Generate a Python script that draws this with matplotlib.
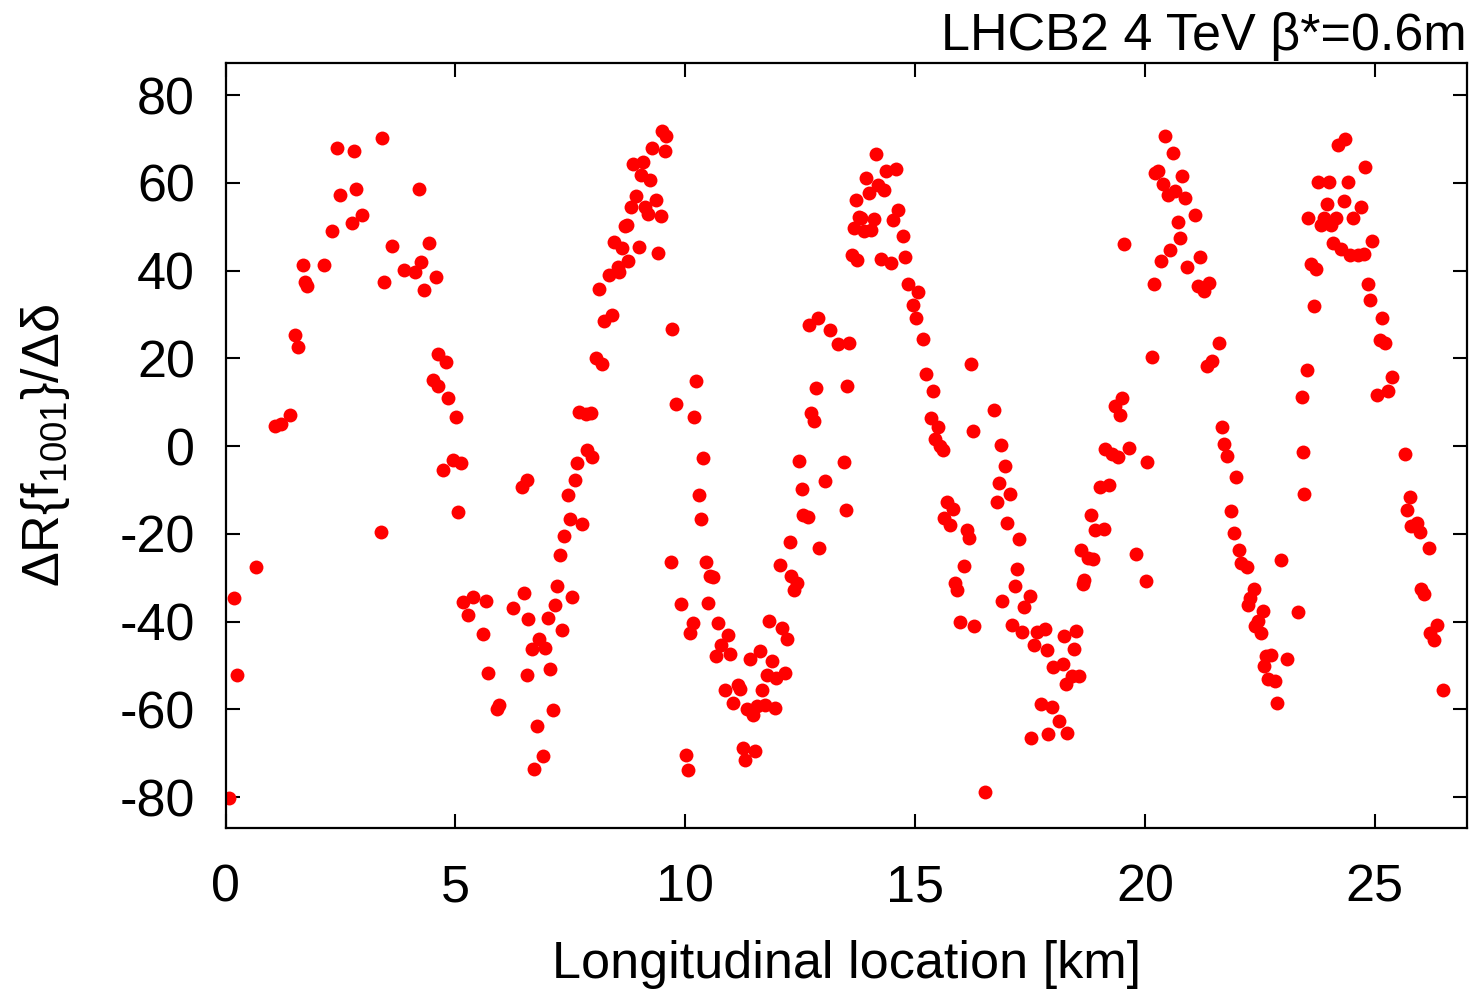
import matplotlib
matplotlib.use("Agg")
import matplotlib.pyplot as plt

plt.rcParams['font.family'] = ['Liberation Sans', 'DejaVu Sans']
plt.rcParams['mathtext.default'] = 'regular'
plt.rcParams['axes.unicode_minus'] = False

# longitudinal position [km] and coupling response
loc_km = [
    0.08, 0.19, 0.24, 0.66, 1.08, 1.21, 1.41, 1.52, 1.57, 1.68, 1.73, 1.78, 2.15, 2.32, 2.42,
    2.48, 2.75, 2.80, 2.83, 2.96, 3.38, 3.41, 3.44, 3.62, 3.88, 4.12, 4.20, 4.26, 4.31, 4.42,
    4.51, 4.57, 4.62, 4.62, 4.74, 4.80, 4.85, 4.95, 5.01, 5.06, 5.13, 5.17, 5.28, 5.39, 5.60,
    5.66, 5.71, 5.91, 5.96, 6.25, 6.44, 6.50, 6.55, 6.55, 6.59, 6.66, 6.70, 6.78, 6.83, 6.90,
    6.95, 7.01, 7.06, 7.12, 7.17, 7.22, 7.27, 7.32, 7.37, 7.44, 7.49, 7.54, 7.60, 7.65, 7.70,
    7.76, 7.84, 7.87, 7.94, 7.97, 8.06, 8.13, 8.19, 8.23, 8.35, 8.41, 8.44, 8.53, 8.57, 8.62,
    8.68, 8.73, 8.76, 8.82, 8.87, 8.93, 8.99, 9.04, 9.09, 9.13, 9.19, 9.24, 9.28, 9.36, 9.41,
    9.47, 9.49, 9.55, 9.59, 9.70, 9.72, 9.80, 9.91, 10.01, 10.06, 10.11, 10.16, 10.20, 10.23, 10.29,
    10.34, 10.39, 10.45, 10.50, 10.54, 10.61, 10.67, 10.72, 10.78, 10.87, 10.93, 10.98, 11.04, 11.14, 11.19,
    11.25, 11.30, 11.35, 11.41, 11.48, 11.51, 11.57, 11.62, 11.68, 11.74, 11.77, 11.82, 11.88, 11.95, 11.98,
    12.06, 12.10, 12.17, 12.21, 12.27, 12.31, 12.37, 12.44, 12.48, 12.53, 12.56, 12.66, 12.69, 12.74, 12.80,
    12.84, 12.89, 12.91, 13.04, 13.16, 13.33, 13.45, 13.49, 13.52, 13.56, 13.63, 13.67, 13.71, 13.74, 13.78,
    13.83, 13.89, 13.94, 13.99, 14.05, 14.10, 14.15, 14.20, 14.26, 14.32, 14.37, 14.48, 14.52, 14.59, 14.63,
    14.74, 14.79, 14.85, 14.96, 15.01, 15.06, 15.17, 15.23, 15.34, 15.39, 15.43, 15.49, 15.55, 15.61, 15.64,
    15.70, 15.75, 15.82, 15.86, 15.91, 15.97, 16.06, 16.13, 16.17, 16.22, 16.25, 16.28, 16.53, 16.71, 16.78,
    16.82, 16.86, 16.89, 16.95, 17.01, 17.06, 17.11, 17.17, 17.22, 17.27, 17.32, 17.38, 17.49, 17.53, 17.59,
    17.65, 17.75, 17.82, 17.87, 17.90, 17.98, 18.01, 18.12, 18.21, 18.23, 18.28, 18.30, 18.41, 18.45, 18.51,
    18.56, 18.61, 18.65, 18.68, 18.77, 18.82, 18.88, 18.92, 19.03, 19.10, 19.14, 19.21, 19.28, 19.35, 19.42,
    19.46, 19.50, 19.55, 19.66, 19.80, 20.02, 20.05, 20.16, 20.19, 20.21, 20.29, 20.34, 20.39, 20.44, 20.50,
    20.55, 20.60, 20.66, 20.71, 20.76, 20.81, 20.87, 20.92, 21.08, 21.15, 21.20, 21.29, 21.34, 21.40, 21.45,
    21.62, 21.67, 21.73, 21.78, 21.88, 21.94, 21.99, 22.05, 22.10, 22.21, 22.25, 22.28, 22.37, 22.39, 22.45,
    22.52, 22.56, 22.59, 22.64, 22.68, 22.74, 22.82, 22.88, 22.96, 23.09, 23.32, 23.41, 23.44, 23.47, 23.53,
    23.55, 23.61, 23.67, 23.73, 23.77, 23.82, 23.89, 23.95, 24.00, 24.04, 24.09, 24.15, 24.20, 24.27, 24.32,
    24.36, 24.42, 24.47, 24.53, 24.64, 24.69, 24.76, 24.78, 24.85, 24.90, 24.95, 25.05, 25.11, 25.16, 25.23,
    25.29, 25.38, 25.65, 25.71, 25.76, 25.79, 25.92, 25.99, 26.01, 26.08, 26.17, 26.21, 26.29, 26.35, 26.48,
]
dRf = [
    -80.3, -34.7, -52.1, -27.5, 4.5, 5.1, 7.2, 25.4, 22.7, 41.3, 37.5, 36.4, 41.4, 49.1, 67.9,
    57.3, 50.9, 67.3, 58.7, 52.7, -19.5, 70.3, 37.4, 45.6, 40.1, 39.6, 58.6, 41.9, 35.5, 46.3,
    15.1, 38.6, 21.1, 13.6, -5.5, 19.2, 11.0, -3.2, 6.6, -15.1, -3.8, -35.5, -38.5, -34.4, -42.8,
    -35.3, -51.6, -59.8, -58.9, -36.9, -9.2, -33.4, -7.8, -52.1, -39.5, -46.2, -73.5, -63.8, -43.9, -70.7,
    -45.9, -39.2, -50.9, -60.2, -36.3, -31.9, -24.9, -41.9, -20.5, -11.2, -16.6, -34.4, -7.6, -3.8, 7.7,
    -17.8, 7.4, -0.8, 7.6, -2.5, 20.1, 35.9, 18.8, 28.6, 39.1, 30.0, 46.6, 40.8, 39.8, 45.1,
    50.2, 50.5, 42.3, 54.6, 64.3, 56.9, 45.4, 61.7, 64.7, 54.6, 52.9, 60.6, 68.0, 56.0, 44.0,
    52.5, 71.8, 67.2, 70.7, -26.5, 26.7, 9.7, -35.9, -70.4, -73.8, -42.6, -40.3, 6.6, 14.9, -11.2,
    -16.5, -2.7, -26.5, -35.8, -29.5, -29.8, -47.9, -40.4, -45.4, -55.6, -43.1, -47.3, -58.5, -54.5, -55.3,
    -68.9, -71.6, -59.9, -48.5, -61.2, -69.5, -59.3, -46.6, -55.6, -59.1, -52.1, -39.9, -48.9, -59.6, -52.8,
    -27.1, -41.4, -51.8, -43.9, -21.8, -29.7, -32.8, -31.3, -3.4, -9.7, -15.8, -16.1, 27.7, 7.6, 5.8,
    13.2, 29.2, -23.1, -7.9, 26.4, 23.3, -3.6, -14.6, 13.6, 23.6, 43.6, 49.7, 56.1, 42.5, 52.3,
    52.0, 49.1, 61.1, 57.7, 49.3, 51.8, 66.6, 59.6, 42.6, 58.3, 62.6, 41.7, 51.6, 63.1, 53.9,
    47.9, 43.1, 37.0, 32.2, 29.1, 35.1, 24.5, 16.5, 6.4, 12.6, 1.6, 4.3, 0.1, -0.8, -16.4,
    -12.8, -17.9, -14.3, -31.2, -32.8, -40.1, -27.4, -19.2, -20.9, 18.7, 3.5, -40.9, -78.8, 8.2, -12.8,
    -8.5, 0.2, -35.3, -4.6, -17.4, -10.8, -40.8, -31.9, -27.9, -21.1, -42.4, -36.6, -34.2, -66.6, -45.4,
    -42.4, -58.7, -41.6, -46.4, -65.5, -59.4, -50.3, -62.7, -49.6, -43.2, -54.3, -65.3, -52.4, -46.2, -42.2,
    -52.4, -23.7, -31.5, -30.4, -25.6, -15.8, -25.7, -19.2, -9.4, -18.8, -0.6, -8.9, -1.9, 9.1, -2.5,
    7.2, 11.0, 46.1, -0.4, -24.5, -30.7, -3.5, 20.4, 37.0, 62.2, 62.8, 42.1, 59.8, 70.8, 57.3,
    44.8, 66.8, 58.2, 51.0, 47.4, 61.6, 56.5, 40.8, 52.6, 36.6, 43.0, 35.3, 18.2, 37.2, 19.3,
    23.6, 4.3, 0.6, -2.2, -14.7, -19.9, -7.1, -23.6, -26.6, -27.5, -36.1, -34.6, -32.5, -41.0, -39.9,
    -42.6, -37.6, -50.0, -47.9, -53.0, -47.7, -53.6, -58.5, -26.0, -48.5, -37.9, 11.3, -1.4, -11.0, 17.3,
    52.0, 41.5, 32.0, 40.4, 60.1, 50.5, 52.0, 55.2, 60.2, 50.5, 46.3, 52.0, 68.7, 44.9, 55.9,
    70.0, 60.2, 43.5, 52.0, 43.5, 54.4, 43.9, 63.6, 37.0, 33.2, 46.8, 11.7, 24.1, 29.3, 23.6,
    12.5, 15.8, -1.9, -14.6, -11.6, -18.3, -17.5, -19.5, -32.5, -33.8, -23.1, -42.6, -44.1, -40.8, -55.6,
]

xticks = [0, 5, 10, 15, 20, 25]
yticks = [-80, -60, -40, -20, 0, 20, 40, 60, 80]

fig = plt.figure(figsize=(14.71, 9.90), dpi=100)
ax = fig.add_axes([0.1533, 0.1633, 0.8438, 0.7734])

ax.plot(loc_km, dRf, 'o', color='#ff0000', markersize=10, markeredgewidth=0)

ax.set_xlim(0, 27)
ax.set_ylim(-87.1, 87.4)
ax.set_xticks(xticks)
ax.set_yticks(yticks)

for s in ax.spines.values():
    s.set_linewidth(1.6)
ax.tick_params(direction='in', length=10, width=1.5, labelsize=37.5,
               top=True, right=True)
ax.tick_params(axis='x', pad=25)
ax.tick_params(axis='y', pad=22)

ax.set_xlabel('Longitudinal location [km]', fontsize=37.5, labelpad=20)
ax.set_ylabel('ΔR{f$_{1001}$}/Δδ', fontsize=37.5, labelpad=34)

fig.text(0.997, 0.988, 'LHCB2 4 TeV β*=0.6m', ha='right', va='top', fontsize=37.5)

plt.savefig('out.png', dpi=100)
